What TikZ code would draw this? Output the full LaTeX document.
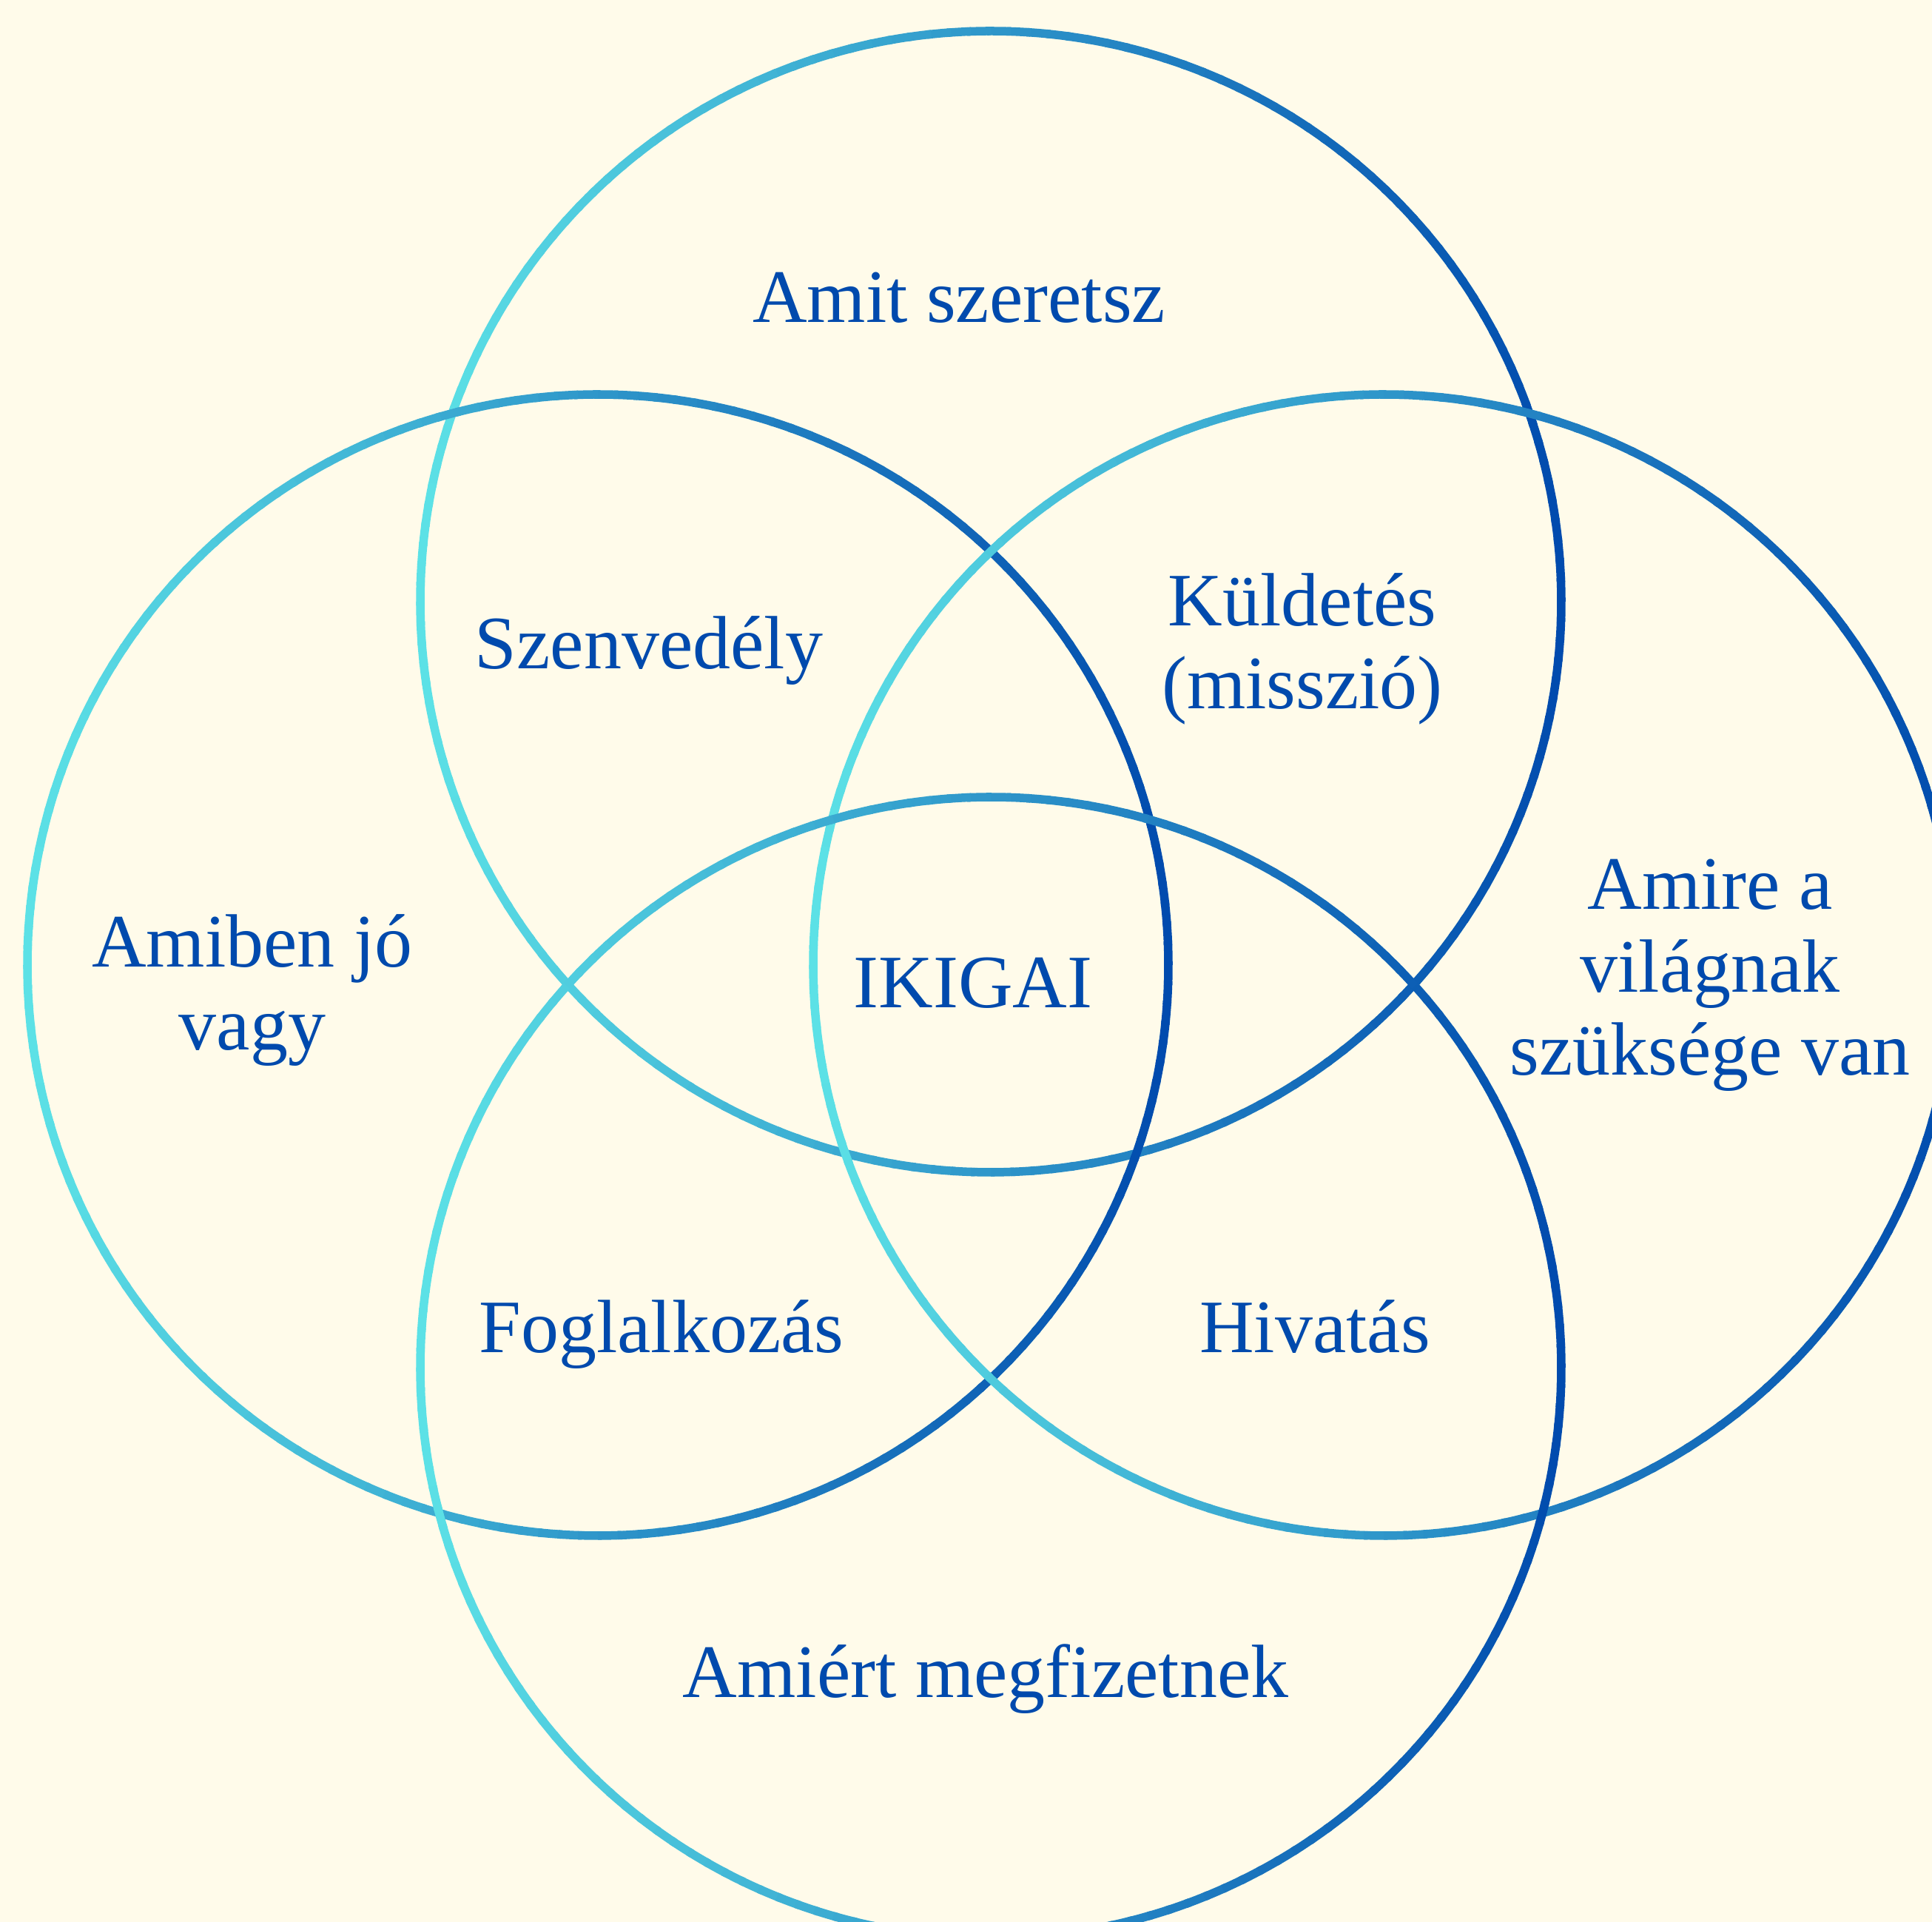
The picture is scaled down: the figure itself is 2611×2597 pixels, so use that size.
\documentclass[tikz,border=0pt]{standalone}
\usepackage{fontspec}
\setmainfont{Liberation Serif}
\usetikzlibrary{calc}
\definecolor{ikcyan}{RGB}{92,225,230}
\definecolor{ikblue}{RGB}{0,74,173}
\definecolor{cream}{RGB}{255,251,234}
\begin{document}
\begin{tikzpicture}[x=0.01cm, y=0.01cm,
    ring/.style={line width=0.115cm},
    txt/.style={text=ikblue, font=\fontsize{29}{31.9}\selectfont, align=center, inner sep=0pt, anchor=base}
]
% background and page size
\fill[cream] (0,0) rectangle (2611,2597);
\useasboundingbox (0,0) rectangle (2611,2597);
\clip (0,0) rectangle (2611,2597);

% circle centres
\coordinate (ctop) at (1339,1784);
\coordinate (cleft) at (808,1293);
\coordinate (cright) at (1870,1293);
\coordinate (cbot) at (1339,749);

% rings - stroke goes from cyan (left) to blue (right)
\foreach \c in {ctop,cleft,cright,cbot}{
  \foreach \a in {0,2,...,358}{
    \pgfmathtruncatemacro\mix{50*(1+cos(\a+1))}
    \draw[ring, ikblue!\mix!ikcyan] ($(\c)+(\a:771)$) arc[start angle=\a, delta angle=2.4, radius=771];
  }
}

% outer labels (base = last line)
\node[txt] (love) at (1296,2161) {Amit szeretsz};
\node[txt] (good) at (341,1178) {Amiben jó\\vagy};
\node[txt] (need) at (2311,1144) {Amire a\\világnak\\szüksége van};
\node[txt] (paid) at (1332,303) {Amiért megfizetnek};

% overlaps
\node[txt] (passion) at (877,1693) {Szenvedély};
\node[txt] (mission) at (1760,1639) {Küldetés\\(misszió)};
\node[txt] (profession) at (894,769) {Foglalkozás};
\node[txt] (vocation) at (1777,769) {Hivatás};

% centre
\node[txt] (ikigai) at (1315,1235) {IKIGAI};

\end{tikzpicture}
\end{document}
